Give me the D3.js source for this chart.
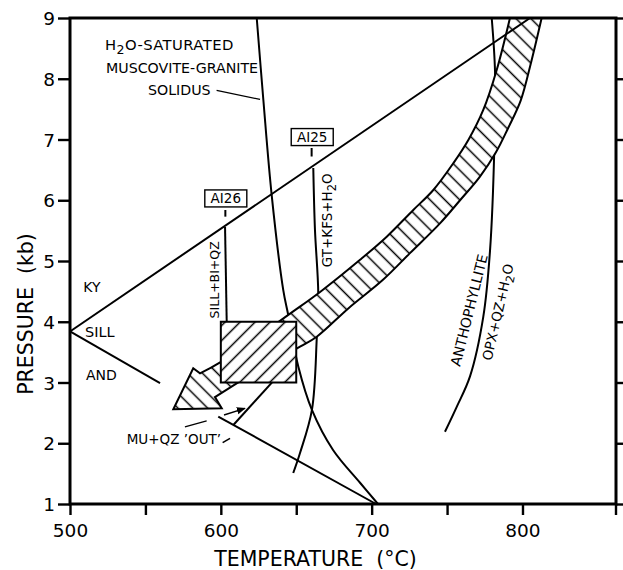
<!DOCTYPE html>
<html><head><meta charset="utf-8">
<script src="https://cdn.jsdelivr.net/npm/d3@7"></script>
<style>
body{margin:0;background:#fff}
svg{display:block}
text{font-family:"DejaVu Sans",sans-serif;fill:#000}
</style>
</head><body><svg id="c" width="623" height="570"></svg>
<script>
// ---- data (temperature °C, pressure kb) ----
const tempTicks = [500, 550, 600, 650, 700, 750, 800];
const tempLabels = [500, 600, 700, 800];
const pressureTicks = [1, 2, 3, 4, 5, 6, 7, 8, 9];

const kySill = [[500, 3.84], [805, 9.0]];
const sillAnd = [[500, 3.84], [559.7, 2.99]];
const solidus = [[623.8, 9.0], [628.2, 7.65], [633.7, 6.09], [641.4, 4.52], [644.7, 4.11],
  [651.4, 3.26], [660.4, 2.55], [674.4, 1.89], [692.3, 1.35], [704.2, 1.0]];
const al25Line = [[661.3, 6.53], [662.4, 5.52], [664.6, 4.47], [663.6, 3.73], [660.4, 2.55],
  [652.5, 1.84], [648.0, 1.51]];
const al26Line = [[602.8, 5.56], [603.9, 4.0]];
const muQzOut = [[598.3, 2.44], [702.9, 1.0]];
const muQzSegment = [[608.3, 2.30], [643.0, 3.25]];
const anthophyllite = [[779.6, 9.0], [781.8, 8.11], [781.3, 6.83], [778.5, 5.18], [774.0, 4.08],
  [765.2, 3.10], [756.4, 2.60], [748.6, 2.19]];
const boxT = [600, 650];
const boxP = [3, 4];
const bandOuter = [[791.7, 9.0], [782.9, 8.144], [774.0, 7.486], [764.1, 6.992], [754.1, 6.608],
  [740.9, 6.169], [727.6, 5.84], [710.0, 5.40], [692.3, 5.02], [665.8, 4.49], [648.0, 4.17],
  [600.1, 3.34], [586.2, 3.15]];
const arrowHead = [[581.7, 3.234], [568.5, 2.559], [600.6, 2.575], [596.1, 2.76]];
const bandInner = [[610.5, 2.987], [652.5, 3.59], [663.6, 3.754], [684.5, 4.22], [707.5, 4.69],
  [725.4, 5.13], [745.3, 5.62], [758.6, 6.0], [771.8, 6.39], [782.4, 6.79], [790.5, 7.19],
  [798.8, 7.64], [806.1, 8.31], [812.7, 9.0]];
const smallArrow = [[602.1, 2.465], [616.0, 2.575]];
const labelLeaderSolidus = [[597.2, 7.81], [626.0, 7.66]];
const labelLeaderMu = [[576.2, 2.27], [590.6, 2.37]];
const labelSlashMu = [[601.2, 2.01], [606.1, 2.08]];
const samples = [
  {name: "AI25", t: 660.6, p: 7.04, tickT: 660.2, tickTop: 6.86, tickBot: 6.72},
  {name: "AI26", t: 603.3, p: 6.03, tickT: 603.0, tickTop: 5.84, tickBot: 5.73}
];

// ---- scales ----
const svg = d3.select("#c");
const x = d3.scaleLinear().domain([500, 862]).range([70, 616]);
const y = d3.scaleLinear().domain([1, 9]).range([504, 18]);
const line = d3.line().x(d => x(d[0])).y(d => y(d[1]));
const curve = d3.line().x(d => x(d[0])).y(d => y(d[1])).curve(d3.curveCatmullRom.alpha(0.5));

const defs = svg.append("defs");
function hatch(id, angle, gap) {
  const p = defs.append("pattern").attr("id", id).attr("patternUnits", "userSpaceOnUse")
    .attr("width", gap).attr("height", gap).attr("patternTransform", `rotate(${angle})`);
  p.append("rect").attr("width", gap).attr("height", gap).attr("fill", "#fff");
  p.append("line").attr("x1", gap / 2).attr("x2", gap / 2).attr("y1", -1).attr("y2", gap + 1)
    .attr("stroke", "#000").attr("stroke-width", 1.5);
}
hatch("hBand", -45, 10.5);
hatch("hBox", 45, 10.6);
defs.append("marker").attr("id", "arr").attr("viewBox", "0 0 10 10").attr("refX", 9).attr("refY", 5)
  .attr("markerWidth", 9).attr("markerHeight", 9).attr("markerUnits", "userSpaceOnUse").attr("orient", "auto")
  .append("path").attr("d", "M0,1 L10,5 L0,9 Z").attr("fill", "#000");

const g = svg.append("g");
const stroke = (sel, w) => sel.attr("fill", "none").attr("stroke", "#000").attr("stroke-width", w);

// phase boundaries and reaction curves
stroke(g.append("path").attr("d", line(sillAnd)), 2);
stroke(g.append("path").attr("d", curve(solidus)), 2);
stroke(g.append("path").attr("d", curve(al25Line)), 2);
stroke(g.append("path").attr("d", line(al26Line)), 2);
stroke(g.append("path").attr("d", curve(anthophyllite)), 2);
stroke(g.append("path").attr("d", line(muQzOut)), 2);
stroke(g.append("path").attr("d", line(muQzSegment)), 2);

// hatched P-T path band with arrowhead
const outerD = curve(bandOuter);
const innerD = curve(bandInner).replace(/^M/, "L");
const headD = arrowHead.map(d => `L${x(d[0])},${y(d[1])}`).join("");
g.append("path").attr("d", outerD + headD + innerD + "Z")
  .attr("fill", "url(#hBand)").attr("stroke", "#000").attr("stroke-width", 2).attr("stroke-linejoin", "miter");

// Ky = Sill line drawn over band top
stroke(g.append("path").attr("d", line(kySill)), 2);

// hatched box
g.append("rect").attr("x", x(boxT[0])).attr("y", y(boxP[1]))
  .attr("width", x(boxT[1]) - x(boxT[0])).attr("height", y(boxP[0]) - y(boxP[1]))
  .attr("fill", "url(#hBox)").attr("stroke", "#000").attr("stroke-width", 2);

// leaders & small arrow
stroke(g.append("path").attr("d", line(labelLeaderSolidus)), 1.3);
stroke(g.append("path").attr("d", line(labelLeaderMu)), 1.3);
stroke(g.append("path").attr("d", line(labelSlashMu)), 1.6);
stroke(g.append("path").attr("d", line(smallArrow)), 1.4).attr("marker-end", "url(#arr)");

// sample boxes
samples.forEach(s => {
  const cx = x(s.t), cy = y(s.p);
  g.append("rect").attr("x", cx - 21).attr("y", cy - 8.5).attr("width", 42).attr("height", 17)
    .attr("fill", "#fff").attr("stroke", "#000").attr("stroke-width", 1.4);
  g.append("text").attr("x", cx).attr("y", cy).attr("dy", "0.36em").attr("text-anchor", "middle")
    .attr("font-size", 13.5).text(s.name);
  stroke(g.append("line").attr("x1", x(s.tickT)).attr("x2", x(s.tickT))
    .attr("y1", y(s.tickTop)).attr("y2", y(s.tickBot)), 2);
});

// text labels
function txt(t, p, size, anchor) {
  return g.append("text").attr("x", x(t)).attr("y", y(p)).attr("font-size", size)
    .attr("text-anchor", anchor || "start");
}
const h2o = (sel, size) => {
  sel.append("tspan").text("H");
  sel.append("tspan").attr("dy", size * 0.28).attr("font-size", size * 0.85).text("2");
  sel.append("tspan").attr("dy", -size * 0.28).text("O");
};
const t1 = txt(523.2, 8.48, 14.8).attr("letter-spacing", 0.4); h2o(t1, 14.8); t1.append("tspan").text("-SATURATED");
txt(523.9, 8.10, 14.2).text("MUSCOVITE-GRANITE");
txt(551.7, 7.73, 14.2).text("SOLIDUS");
txt(508.8, 4.49, 14).text("KY");
txt(509.9, 3.75, 14.5).text("SILL");
txt(510.6, 3.04, 14).text("AND");
txt(537.6, 1.99, 13.5).style("white-space", "pre").text("MU+QZ \u2019OUT\u2019");

function rot(t, p, angle, size) {
  return g.append("text").attr("transform", `translate(${x(t)},${y(p)}) rotate(${angle})`)
    .attr("text-anchor", "middle").attr("dy", "0.36em").attr("font-size", size);
}
rot(596.1, 4.69, -90, 12.5).text("SILL+BI+QZ");
const gt = rot(670.6, 5.67, -90, 13.5); gt.append("tspan").text("GT+KFS+"); h2o(gt, 13.5);
rot(764.6, 4.19, -76, 14).text("ANTHOPHYLLITE");
const opx = rot(783.6, 4.16, -77, 13.5); opx.append("tspan").text("OPX+QZ+"); h2o(opx, 13.5);

// ---- axes ----
const axL = svg.append("g").attr("transform", `translate(${x(500)},0)`)
  .call(d3.axisLeft(y).tickValues(pressureTicks).tickSize(12).tickPadding(3).tickFormat(d3.format("d")));
const axB = svg.append("g").attr("transform", `translate(0,${y(1)})`)
  .call(d3.axisBottom(x).tickValues(tempTicks).tickSize(11).tickPadding(9)
    .tickFormat(d => tempLabels.includes(d) ? d : ""));
const axR = svg.append("g").attr("transform", `translate(${x(862)},0)`)
  .call(d3.axisRight(y).tickValues(pressureTicks).tickSize(9).tickFormat(""));
[axL, axB, axR].forEach(a => {
  a.select(".domain").remove();
  a.selectAll(".tick line").attr("stroke", "#000").attr("stroke-width", 2.4);
  a.selectAll("text").attr("font-family", "DejaVu Sans").attr("font-size", 18.5).attr("fill", "#000");
});
axL.selectAll("text").attr("dy", "0.36em");
svg.append("line").attr("x1", x(862)).attr("x2", x(862)).attr("y1", y(1)).attr("y2", y(1) + 11)
  .attr("stroke", "#000").attr("stroke-width", 2.4);
svg.append("rect").attr("x", x(500)).attr("y", y(9)).attr("width", x(862) - x(500)).attr("height", y(1) - y(9))
  .attr("fill", "none").attr("stroke", "#000").attr("stroke-width", 3);

svg.append("text").attr("x", 315.5).attr("y", 566).attr("text-anchor", "middle").attr("font-size", 20.5)
  .style("white-space", "pre").text("TEMPERATURE  (\u00B0C)");
svg.append("text").attr("transform", "translate(32.5,314) rotate(-90)").attr("text-anchor", "middle")
  .attr("font-size", 20.5).style("white-space", "pre").text("PRESSURE  (kb)");
</script>
</body></html>
